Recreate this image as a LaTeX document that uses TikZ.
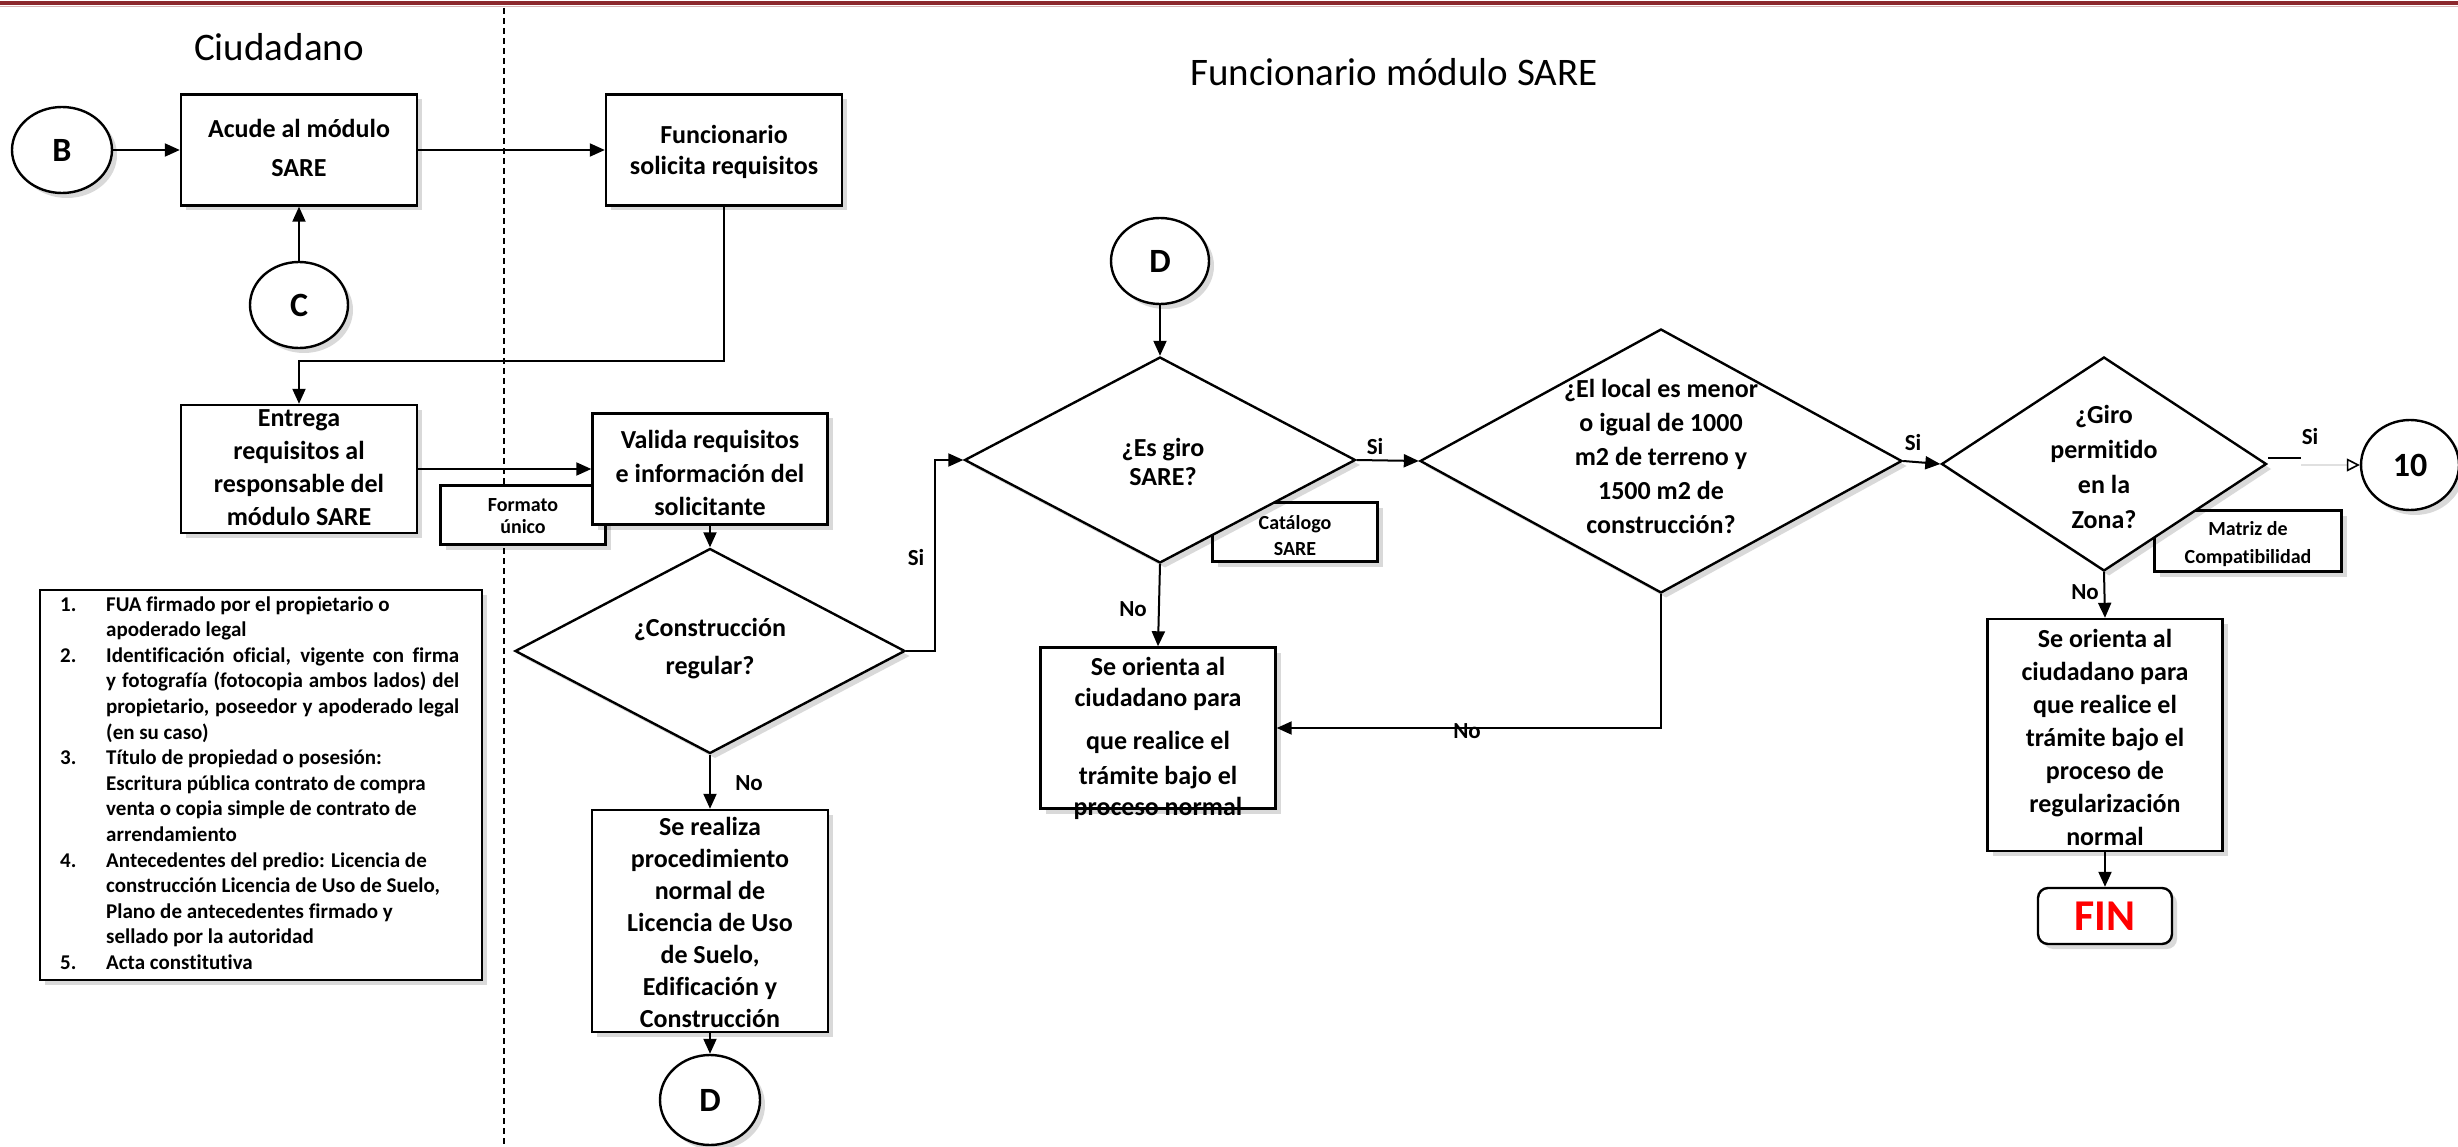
\documentclass[tikz,border=0pt]{standalone}
\usepackage{fontspec}
\setmainfont[Ligatures=NoCommon]{Carlito}
\usetikzlibrary{shapes.geometric, arrows.meta, shadows, calc}
\definecolor{topred}{RGB}{140,40,45}
\begin{document}
\begin{tikzpicture}[x=1pt,y=-1pt,
  every node/.style={inner sep=0pt},
  shd/.style={drop shadow={shadow xshift=5pt, shadow yshift=-5pt, opacity=0.15, fill=black}},
  box/.style={draw, line width=2.4pt, fill=white, shd},
  dia/.style={draw, diamond, line width=2.4pt, fill=white, shd},
  conn/.style={draw, ellipse, line width=2.4pt, fill=white, shd, font=\bfseries\fontsize{34}{40}\selectfont},
  txt/.style={font=\bfseries\fontsize{26}{#1}\selectfont, align=center},
  txt/.default=33,
  stxt/.style={font=\bfseries\fontsize{20}{#1}\selectfont, align=center},
  stxt/.default=24,
  lbl/.style={font=\bfseries\fontsize{23}{28}\selectfont},
  arr/.style={line width=2pt, -{Triangle[length=15pt,width=13pt]}},
  ln/.style={line width=2pt},
]
\useasboundingbox (0,0) rectangle (2458,1147);
\fill[white] (0,0) rectangle (2458,1147);
\draw[topred, line width=3.5pt] (0,3) -- (2458,3);
\draw[topred!35, line width=1pt] (0,6.5) -- (2458,6.5);
\draw[line width=1.3pt, dash pattern=on 6pt off 4pt] (504,8) -- (504,1147);

% headers
\node[font=\fontsize{39}{47}\selectfont] (hCiu) at (279,47) {Ciudadano};
\node[font=\fontsize{39}{47}\selectfont] (hFun) at (1394,72) {Funcionario módulo SARE};

% notes (drawn first so that other shapes cover them)
\node[box, minimum width=165, minimum height=59] (Form) at (523,515) {};
\node[stxt=22] (Formt) at (523,516) {Formato\\único};
\node[box, minimum width=165, minimum height=59] (Cat) at (1295,532) {};
\node[stxt=26] (Catt) at (1295,536) {Catálogo\\SARE};
\node[box, minimum width=187, minimum height=61] (Mat) at (2248,541) {};
\node[stxt=28] (Matt) at (2248,544) {Matriz de\\Compatibilidad};

% list box
\node[box, anchor=north west, minimum width=442, minimum height=390] (List) at (39,589) {};
\node[anchor=north west, font=\bfseries\fontsize{21}{25.6}\selectfont, align=left] (Listt) at (60,593) {%
\begin{tabular}{@{}p{46pt}@{}l@{}}
1. & FUA firmado por el propietario o\\
   & apoderado legal\\
2. & \makebox[353pt][s]{Identificación oficial, vigente con firma}\\
   & \makebox[353pt][s]{y fotografía (fotocopia ambos lados) del}\\
   & \makebox[353pt][s]{propietario, poseedor y apoderado legal}\\
   & (en su caso)\\
3. & Título de propiedad o posesión:\\
   & Escritura pública contrato de compra\\
   & venta o copia simple de contrato de\\
   & arrendamiento\\
4. & Antecedentes del predio: Licencia de\\
   & construcción Licencia de Uso de Suelo,\\
   & Plano de antecedentes firmado y\\
   & sellado por la autoridad\\
5. & Acta constitutiva
\end{tabular}};

% left part
\node[conn, minimum width=100, minimum height=86] (B) at (62,150) {B};
\node[box, minimum width=236, minimum height=111] (Acu) at (299,150) {};
\node[txt=39] (Acut) at (299,148) {Acude al módulo\\SARE};
\node[box, minimum width=236, minimum height=111] (Fun) at (724,150) {};
\node[txt=31] (Funt) at (724,152) {Funcionario\\solicita requisitos};
\node[conn, minimum width=98, minimum height=86] (C) at (299,305) {C};
\node[box, minimum width=236, minimum height=128] (Ent) at (299,469) {};
\node[txt=33] (Entt) at (299,468) {Entrega\\requisitos al\\responsable del\\módulo SARE};
\node[box, minimum width=235, minimum height=111] (Val) at (710,469) {};
\node[txt=33.5] (Valt) at (710,473) {Valida requisitos\\e información del\\solicitante};
\node[dia, minimum width=390, minimum height=205] (Cons) at (710,651) {};
\node[txt=38] (Const) at (710,649) {¿Construcción\\regular?};
\node[box, minimum width=236, minimum height=222] (Rea) at (710,921) {};
\node[txt=32] (Reat) at (710,922) {Se realiza\\procedimiento\\normal de\\Licencia de Uso\\de Suelo,\\Edificación y\\Construcción};
\node[conn, minimum width=100, minimum height=90] (Dbot) at (710,1100) {D};

% right part
\node[conn, minimum width=98, minimum height=86] (Dtop) at (1160,261) {D};
\node[dia, minimum width=391, minimum height=206] (Es) at (1160,460) {};
\node[txt=29] (Est) at (1163,462) {¿Es giro\\SARE?};
\node[dia, minimum width=482, minimum height=264] (Loc) at (1661,461) {};
\node[txt=34] (Loct) at (1661,456) {¿El local es menor\\o igual de 1000\\m2 de terreno y\\1500 m2 de\\construcción?};
\node[box, minimum width=235, minimum height=161] (Or1) at (1158,728) {};
\node[txt=31] (Or1t) at (1158,738) {Se orienta al\\ciudadano para\\[12pt]que realice el\\[4pt]trámite bajo el\\proceso normal};
\node[dia, minimum width=325, minimum height=214] (Gir) at (2104,464) {};
\node[txt=35] (Girt) at (2104,467) {¿Giro\\permitido\\en la\\Zona?};
\node[conn, minimum width=98, minimum height=90] (Ten) at (2410,465) {10};
\node[box, minimum width=235, minimum height=232] (Or2) at (2105,735) {};
\node[txt=33] (Or2t) at (2105,737) {Se orienta al\\ciudadano para\\que realice el\\trámite bajo el\\proceso de\\regularización\\normal};
\node[box, rounded corners=10pt, minimum width=134, minimum height=56, text=red, font=\bfseries\fontsize{44}{50}\selectfont] (FIN) at (2105,916) {FIN};

% connectors
\coordinate (j1) at (299,361);
\coordinate (j2) at (935,460);
\coordinate (g1) at (2268,458);
\coordinate (g2) at (2301,458);
\coordinate (g3) at (2301,465);
\draw[arr] (B) -- (Acu);
\draw[arr] (Acu) -- (Fun);
\draw[arr] (C) -- (Acu);
\draw[arr] (Fun.south) |- (j1) -- (Ent.north);
\draw[arr] (Ent) -- (Val);
\draw[arr] (Val) -- (Cons.north);
\draw[arr] (Cons.south) -- (Rea.north);
\draw[arr] (Rea) -- (Dbot);
\draw[arr] (Cons.east) -| (j2) -- (Es.west);
\draw[arr] (Dtop) -- (Es.north);
\draw[arr] (Es.east) -- (Loc.west);
\draw[arr] (Es.south) -- (Or1.north);
\draw[arr] (Loc.south) |- (Or1.east);
\draw[arr] (Loc.east) -- (Gir.west);
\draw[arr] (Gir.south) -- (Or2.north);
\draw[arr] (Or2) -- (FIN);
\draw[ln] (g1) -- (g2);
\draw[black!12, line width=2pt, -{Triangle[open, length=13pt, width=13pt, color=black, line width=1.6pt]}] (g3) -- (Ten.west);

% labels
\node[lbl] (l1) at (916,558) {Si};
\node[lbl] (l2) at (749,783) {No};
\node[lbl] (l3) at (1375,447) {Si};
\node[lbl] (l4) at (1133,609) {No};
\node[lbl] (l5) at (1467,731) {No};
\node[lbl] (l6) at (1913,443) {Si};
\node[lbl] (l7) at (2310,437) {Si};
\node[lbl] (l8) at (2085,592) {No};
\end{tikzpicture}
\end{document}
